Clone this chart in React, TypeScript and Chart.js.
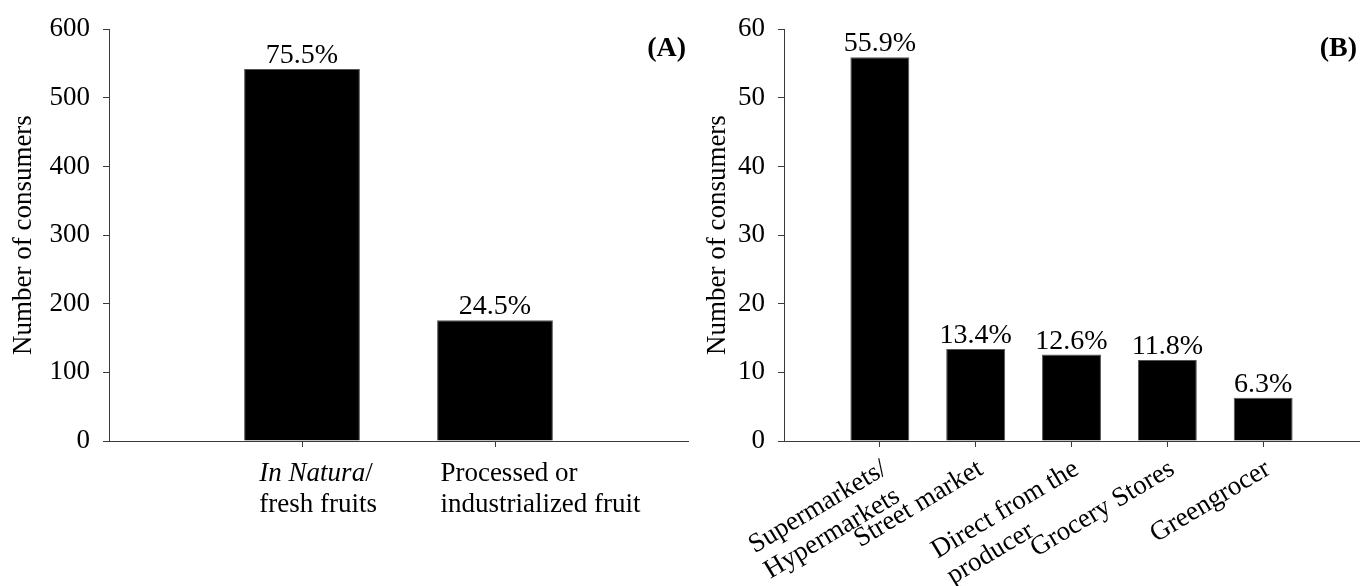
import React, { useEffect, useRef } from 'react';
import { Chart, registerables } from 'chart.js';

Chart.register(...registerables);

const FONT = "'Liberation Serif', 'Times New Roman', Times, serif";
const AXIS = '#3a3a3a';

// Panel A data
const categoriesA: string[][] = [['*In Natura*/', 'fresh fruits'], ['Processed or', 'industrialized fruit']];
const valuesA: number[] = [542, 176];
const pctA: string[] = ['75.5%', '24.5%'];
const yTicksA: number[] = [0, 100, 200, 300, 400, 500, 600];

// Panel B data
const categoriesB: string[][] = [
  ['Supermarkets/', 'Hypermarkets'],
  ['Street market'],
  ['Direct from the', 'producer'],
  ['Grocery Stores'],
  ['Greengrocer'],
];
const valuesB: number[] = [55.9, 13.4, 12.6, 11.8, 6.3];
const pctB: string[] = ['55.9%', '13.4%', '12.6%', '11.8%', '6.3%'];
const yTicksB: number[] = [0, 10, 20, 30, 40, 50, 60];

const yTitle = 'Number of consumers';
const panelTags: string[] = ['(A)', '(B)'];

type Seg = { text: string; italic: boolean };
function parseSegs(line: string): Seg[] {
  return line.split('*').map((t, i) => ({ text: t, italic: i % 2 === 1 })).filter((s) => s.text.length > 0);
}
function segFont(italic: boolean, size: number) {
  return `${italic ? 'italic ' : ''}${size}px ${FONT}`;
}
function lineWidth(ctx: CanvasRenderingContext2D, segs: Seg[], size: number) {
  let w = 0;
  segs.forEach((s) => {
    ctx.font = segFont(s.italic, size);
    w += ctx.measureText(s.text).width;
  });
  return w;
}
function drawSegs(ctx: CanvasRenderingContext2D, segs: Seg[], x: number, y: number, size: number) {
  let cx = x;
  segs.forEach((s) => {
    ctx.font = segFont(s.italic, size);
    ctx.fillText(s.text, cx, y);
    cx += ctx.measureText(s.text).width;
  });
}

type PanelOpts = {
  values: number[];
  pct: string[];
  yTicks: number[];
  categories: string[][];
  tag: string;
  yWidth: number;
  top: number;
  barPct: number;
  titlePad: number;
  mode: 'flat' | 'rotated';
};

function makeConfig(p: PanelOpts): any {
  const labelPlugin = {
    id: 'panelLabels',
    afterDraw(chart: any) {
      const ctx: CanvasRenderingContext2D = chart.ctx;
      const xs = chart.scales.x;
      const area = chart.chartArea;
      ctx.save();
      ctx.fillStyle = '#000';
      // value labels
      const meta = chart.getDatasetMeta(0);
      ctx.textAlign = 'center';
      ctx.textBaseline = 'alphabetic';
      ctx.font = `28px ${FONT}`;
      meta.data.forEach((bar: any, i: number) => {
        ctx.fillText(p.pct[i], bar.x, bar.y - 6);
      });
      // panel tag
      ctx.textAlign = 'right';
      ctx.font = `bold 28px ${FONT}`;
      ctx.fillText(p.tag, area.right - 2, area.top + 27);
      // category labels
      ctx.textAlign = 'left';
      const size = 27;
      const lh = 31;
      p.categories.forEach((lines, i) => {
        const x = xs.getPixelForValue(i + 1);
        const segsList = lines.map(parseSegs);
        if (p.mode === 'flat') {
          ctx.textBaseline = 'alphabetic';
          const w1 = lineWidth(ctx, segsList[0], size);
          const left = x + 14 - w1 / 2;
          segsList.forEach((segs, j) => drawSegs(ctx, segs, left, area.bottom + 40 + j * lh, size));
        } else {
          ctx.textBaseline = 'middle';
          const widths = segsList.map((s) => lineWidth(ctx, s, size));
          const bw = Math.max(...widths);
          ctx.save();
          ctx.translate(x + 5, area.bottom + 26);
          ctx.rotate((-31 * Math.PI) / 180);
          segsList.forEach((segs, j) => drawSegs(ctx, segs, -bw, j * 30, size));
          ctx.restore();
        }
      });
      ctx.restore();
    },
  };

  return {
    type: 'bar',
    data: {
      datasets: [
        {
          data: p.values.map((v, i) => ({ x: i + 1, y: v })),
          backgroundColor: '#000',
          borderColor: '#555',
          borderWidth: 1,
          barPercentage: p.barPct,
          categoryPercentage: 1,
        },
      ],
    },
    options: {
      animation: false,
      responsive: false,
      maintainAspectRatio: false,
      layout: { padding: { top: p.top, right: 2, left: 0, bottom: 0 } },
      plugins: { legend: { display: false }, tooltip: { enabled: false }, title: { display: false } },
      scales: {
        x: {
          type: 'linear',
          min: 0,
          max: p.values.length + 1,
          offset: false,
          afterBuildTicks: (s: any) => {
            s.ticks = p.values.map((_, i) => ({ value: i + 1 }));
          },
          afterFit: (s: any) => {
            s.height = 145;
          },
          ticks: { display: false },
          grid: { display: true, drawOnChartArea: false, drawTicks: true, tickLength: 6, tickColor: AXIS, offset: false },
          border: { display: true, color: AXIS, width: 1 },
        },
        y: {
          min: 0,
          max: p.yTicks[p.yTicks.length - 1],
          afterBuildTicks: (s: any) => {
            s.ticks = p.yTicks.map((v) => ({ value: v }));
          },
          afterFit: (s: any) => {
            s.width = p.yWidth;
          },
          ticks: { color: '#000', font: { family: FONT, size: 27 }, padding: 13 },
          grid: { drawOnChartArea: false, drawTicks: true, tickLength: 6, tickColor: AXIS },
          border: { display: true, color: AXIS, width: 1 },
          title: {
            display: true,
            text: yTitle,
            color: '#000',
            font: { family: FONT, size: 27 },
            padding: { top: p.titlePad, bottom: 0 },
          },
        },
      },
    },
    plugins: [labelPlugin],
  };
}

function Panel({ width, left, opts }: { width: number; left: number; opts: PanelOpts }) {
  const ref = useRef<HTMLCanvasElement | null>(null);
  useEffect(() => {
    if (!ref.current) return;
    const chart = new Chart(ref.current, makeConfig(opts));
    return () => chart.destroy();
  }, []);
  return (
    <canvas
      ref={ref}
      width={width}
      height={586}
      style={{ position: 'absolute', left, top: 0, width, height: 586, display: 'block' }}
    />
  );
}

export default function App() {
  return (
    <div style={{ position: 'fixed', left: 0, top: 0, width: 1361, height: 586, background: '#fff' }}>
      <Panel
        width={690}
        left={0}
        opts={{
          values: valuesA,
          pct: pctA,
          yTicks: yTicksA,
          categories: categoriesA,
          tag: panelTags[0],
          yWidth: 109,
          top: 25,
          barPct: 0.6,
          titlePad: 8,
          mode: 'flat',
        }}
      />
      <Panel
        width={671}
        left={690}
        opts={{
          values: valuesB,
          pct: pctB,
          yTicks: yTicksB,
          categories: categoriesB,
          tag: panelTags[1],
          yWidth: 94,
          top: 27,
          barPct: 0.615,
          titlePad: 12,
          mode: 'rotated',
        }}
      />
    </div>
  );
}
